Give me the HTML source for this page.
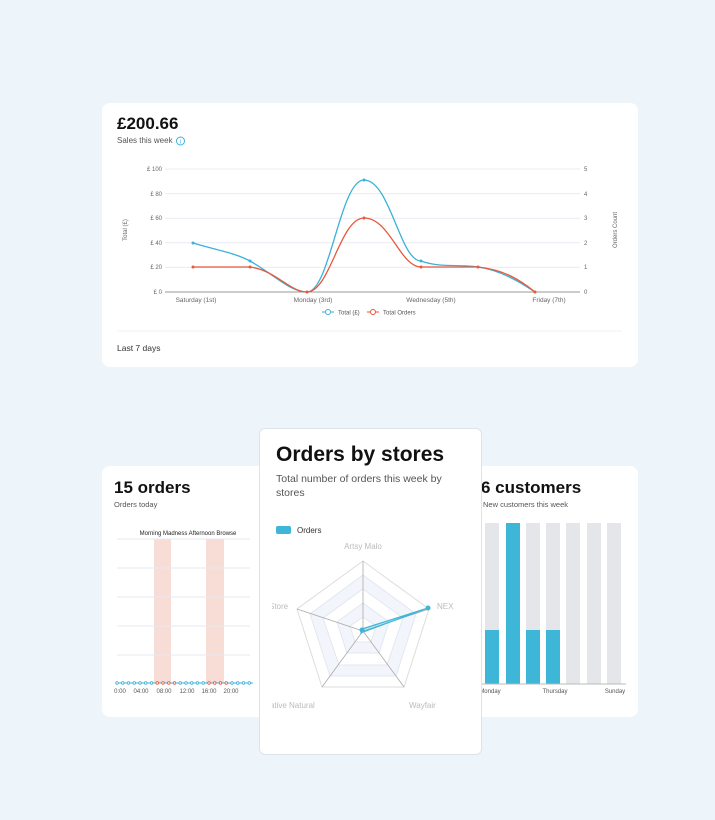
<!DOCTYPE html>
<html><head><meta charset="utf-8"><style>
body{margin:0;width:715px;height:820px;background:#edf5fb;font-family:"Liberation Sans",sans-serif;position:relative;overflow:hidden}
.card{position:absolute;background:#fff;border-radius:8px}
.t{position:absolute;white-space:nowrap}
</style></head><body>
<div class="card" style="left:102px;top:103px;width:536px;height:264px"></div>
<div class="t" style="left:117px;top:114px;font-size:17px;font-weight:bold;color:#111">£200.66</div>
<div class="t" style="left:117px;top:136px;font-size:8px;color:#555">Sales this week</div>
<svg style="position:absolute;left:0;top:0" width="715" height="820">
<circle cx="180.5" cy="141" r="4" fill="none" stroke="#3bb1d8" stroke-width="1"/>
<text x="180.5" y="143.5" font-size="6" fill="#3bb1d8" text-anchor="middle">i</text>
<g stroke="#e8ecf4" stroke-width="1">
<line x1="165" x2="580" y1="169" y2="169"/><line x1="165" x2="580" y1="193.6" y2="193.6"/><line x1="165" x2="580" y1="218.2" y2="218.2"/><line x1="165" x2="580" y1="242.8" y2="242.8"/><line x1="165" x2="580" y1="267.4" y2="267.4"/>
</g>
<line x1="165" x2="580" y1="292" y2="292" stroke="#999"/>
<g font-size="6" fill="#666" text-anchor="end">
<text x="162" y="171">£ 100</text><text x="162" y="196">£ 80</text><text x="162" y="220">£ 60</text><text x="162" y="245">£ 40</text><text x="162" y="269">£ 20</text><text x="162" y="294">£ 0</text></g>
<g font-size="6" fill="#666"><text x="584" y="171">5</text><text x="584" y="196">4</text><text x="584" y="220">3</text><text x="584" y="245">2</text><text x="584" y="269">1</text><text x="584" y="294">0</text></g>
<text font-size="6" fill="#666" transform="translate(127,230) rotate(-90)" text-anchor="middle">Total (£)</text>
<text font-size="6" fill="#666" transform="translate(617,230) rotate(-90)" text-anchor="middle">Orders Count</text>
<g font-size="6.5" fill="#666" text-anchor="middle"><text x="196" y="302">Saturday (1st)</text><text x="313" y="302">Monday (3rd)</text><text x="431" y="302">Wednesday (5th)</text><text x="549" y="302">Friday (7th)</text></g>
<path d="M193,243 C220,251 235,253 250,261 C275,275 290,292 307,292 C330,292 340,180 364,180 C390,180 400,261 421,261 C440,268 460,264 478,267 C500,270 520,282 535,292" fill="none" stroke="#3bb1d8" stroke-width="1.3"/>
<path d="M193,267 L250,267 C275,270 290,292 307,292 C330,292 340,218 364,218 C390,218 400,267 421,267 L478,267 C505,270 520,280 535,292" fill="none" stroke="#e8583a" stroke-width="1.3"/>
<g fill="#3bb1d8"><circle cx="193" cy="243" r="1.5"/><circle cx="250" cy="261" r="1.5"/><circle cx="364" cy="180" r="1.5"/><circle cx="421" cy="261" r="1.5"/></g>
<g fill="#e8583a"><circle cx="193" cy="267" r="1.5"/><circle cx="250" cy="267" r="1.5"/><circle cx="307" cy="292" r="1.5"/><circle cx="364" cy="218" r="1.5"/><circle cx="421" cy="267" r="1.5"/><circle cx="478" cy="267" r="1.5"/><circle cx="535" cy="292" r="1.5"/></g>
<line x1="322" x2="334" y1="312" y2="312" stroke="#3bb1d8"/><circle cx="328" cy="312" r="2.5" fill="#fff" stroke="#3bb1d8"/>
<text x="338" y="314.5" font-size="6" fill="#555">Total (£)</text>
<line x1="367" x2="379" y1="312" y2="312" stroke="#e8583a"/><circle cx="373" cy="312" r="2.5" fill="#fff" stroke="#e8583a"/>
<text x="383" y="314.5" font-size="6" fill="#555">Total Orders</text>
<line x1="117" x2="622" y1="331" y2="331" stroke="#eef0f3"/>
</svg>
<div class="t" style="left:117px;top:343px;font-size:8.5px;color:#333">Last 7 days</div>

<div class="card" style="left:102px;top:466px;width:536px;height:251px"></div>
<div class="t" style="left:114px;top:478px;font-size:17px;font-weight:bold;color:#111">15 orders</div>
<div class="t" style="left:114px;top:500px;font-size:7.5px;color:#555">Orders today</div>
<div class="t" style="left:483px;top:500px;font-size:7.5px;color:#555">New customers this week</div>
<div class="t" style="left:481px;top:478px;font-size:17px;font-weight:bold;color:#111">6 customers</div>
<svg style="position:absolute;left:0;top:0" width="715" height="820">
<text x="188" y="535" font-size="6" fill="#222" text-anchor="middle">Morning Madness Afternoon Browse</text>
<rect x="154" y="539" width="17" height="144" fill="#f8dcd6"/><rect x="206" y="539" width="18" height="144" fill="#f8dcd6"/>
<g stroke="#e4e8f2"><line x1="117" x2="250" y1="539" y2="539"/><line x1="117" x2="250" y1="568" y2="568"/><line x1="117" x2="250" y1="597" y2="597"/><line x1="117" x2="250" y1="626" y2="626"/><line x1="117" x2="250" y1="655" y2="655"/></g>
<line x1="117" x2="253" y1="683" y2="683" stroke="#3bb1d8"/>
<g fill="#fff" stroke="#3bb1d8" stroke-width="0.8">
<circle cx="117" cy="683" r="1.3"/><circle cx="122.75" cy="683" r="1.3"/><circle cx="128.5" cy="683" r="1.3"/><circle cx="134.25" cy="683" r="1.3"/><circle cx="140" cy="683" r="1.3"/><circle cx="145.75" cy="683" r="1.3"/><circle cx="151.5" cy="683" r="1.3"/>
<circle cx="180.25" cy="683" r="1.3"/><circle cx="186" cy="683" r="1.3"/><circle cx="191.75" cy="683" r="1.3"/><circle cx="197.5" cy="683" r="1.3"/><circle cx="203.25" cy="683" r="1.3"/>
<circle cx="232" cy="683" r="1.3"/><circle cx="237.75" cy="683" r="1.3"/><circle cx="243.5" cy="683" r="1.3"/><circle cx="249.25" cy="683" r="1.3"/></g>
<g fill="#fff" stroke="#e8583a" stroke-width="0.8"><circle cx="157.25" cy="683" r="1.3"/><circle cx="163" cy="683" r="1.3"/><circle cx="168.75" cy="683" r="1.3"/><circle cx="174.5" cy="683" r="1.3"/><circle cx="209" cy="683" r="1.3"/><circle cx="214.75" cy="683" r="1.3"/><circle cx="220.5" cy="683" r="1.3"/><circle cx="226.25" cy="683" r="1.3"/></g>
<g font-size="6" fill="#555" text-anchor="middle"><text x="120" y="693">0:00</text><text x="141" y="693">04:00</text><text x="164" y="693">08:00</text><text x="187" y="693">12:00</text><text x="209" y="693">16:00</text><text x="231" y="693">20:00</text></g>
<g fill="#e5e6ea"><rect x="485" y="523" width="14" height="161"/><rect x="526" y="523" width="14" height="161"/><rect x="546" y="523" width="14" height="161"/><rect x="566" y="523" width="14" height="161"/><rect x="587" y="523" width="14" height="161"/><rect x="607" y="523" width="14" height="161"/></g>
<g fill="#3db6d8"><rect x="485" y="630" width="14" height="54"/><rect x="506" y="523" width="14" height="161"/><rect x="526" y="630" width="14" height="54"/><rect x="546" y="630" width="14" height="54"/></g>
<line x1="480" x2="626" y1="684" y2="684" stroke="#bbb"/>
<g font-size="6" fill="#555" text-anchor="middle"><text x="490" y="693">Monday</text><text x="555" y="693">Thursday</text><text x="615" y="693">Sunday</text></g>
</svg>

<div class="card" style="left:259px;top:428px;width:221px;height:325px;border:1px solid #dde3ea;border-radius:6px;overflow:hidden">
<div class="t" style="left:16px;top:14px;font-size:21px;font-weight:bold;color:#111">Orders by stores</div>
<div class="t" style="left:16px;top:43px;font-size:10.5px;color:#555;line-height:14px;white-space:normal;width:190px">Total number of orders this week by stores</div>
<svg style="position:absolute;left:-259px;top:-428px" width="715" height="820">
<defs><clipPath id="c"><rect x="271" y="500" width="200" height="230"/></clipPath></defs>
<rect x="275" y="525" width="15" height="8" rx="2" fill="#3db6d8"/>
<text x="296" y="532" font-size="8" fill="#333">Orders</text>
<g clip-path="url(#c)">
<g fill="none" stroke="#e3e7ef">
<polygon points="362,560 428,608 403,686 321,686 296,608" fill="#fff" stroke="#ddd"/>
<polygon points="362,574 415,613 395,675 329,675 309,613" fill="#f2f5fb"/>
<polygon points="362,588 402,617 386,664 338,664 322,617" fill="#fff"/>
<polygon points="362,602 388,621 378,652 346,652 336,621" fill="#f2f5fb"/>
<polygon points="362,616 375,625 370,641 354,641 349,625" fill="#fff"/>
</g>
<g stroke="#aaa" stroke-width="0.8"><line x1="362" y1="630" x2="362" y2="560"/><line x1="362" y1="630" x2="428" y2="608"/><line x1="362" y1="630" x2="403" y2="686"/><line x1="362" y1="630" x2="321" y2="686"/><line x1="362" y1="630" x2="296" y2="608"/></g>
<polygon points="361,628 427,607 362,631 360,632" fill="rgba(61,182,216,0.3)" stroke="#3db6d8" stroke-width="1.2"/>
<circle cx="427" cy="607" r="2.5" fill="#3db6d8"/><circle cx="361" cy="629" r="2.5" fill="#3db6d8"/>
<g font-size="8" fill="#bbb"><text x="362" y="548" text-anchor="middle">Artsy Malo</text><text x="436" y="608">NEX</text><text x="268" y="608">Store</text><text x="256" y="707">Creative Natural</text><text x="408" y="707">Wayfair</text></g>
</g>
</svg>
</div>
</body></html>
